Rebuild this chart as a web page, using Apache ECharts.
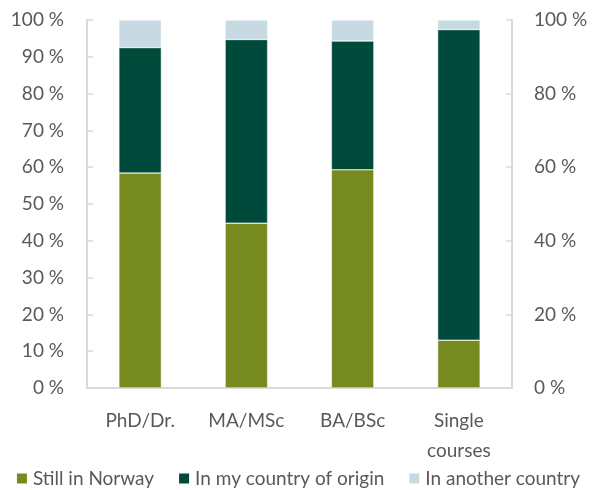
<!DOCTYPE html>
<html>
<head>
<meta charset="utf-8">
<script src="https://cdn.jsdelivr.net/npm/echarts@6/dist/echarts.min.js"></script>
<style>
  html, body { margin: 0; padding: 0; background: #fff; }
  #chart { width: 595px; height: 490px; }
</style>
</head>
<body>
<div id="chart"></div>
<script>
// percent of each group
var categories = ['PhD/Dr.', 'MA/MSc', 'BA/BSc', 'Single\ncourses']
var stillNorway = [58.4, 44.8, 59.3, 13.0]
var countryOrigin = [34.1, 49.9, 35.0, 84.4]
var anotherCountry = [7.5, 5.3, 5.7, 2.6]

var font = 'Lato'
var textColor = '#595959'
var axisGray = '#d9d9d9'

function makeSeries (name, data, color) {
  return {
    name: name,
    type: 'bar',
    stack: 'total',
    barWidth: '40%',
    data: data,
    itemStyle: { color: color, borderColor: '#fff', borderWidth: 0.5 }
  }
}

var chart = echarts.init(document.getElementById('chart'))

chart.setOption({
  animation: false,
  backgroundColor: '#fff',
  textStyle: { fontFamily: font },
  grid: { left: 87, right: 83, top: 20, bottom: 102 },
  legend: {
    bottom: 2,
    left: 'center',
    padding: 0,
    itemWidth: 12,
    itemHeight: 12,
    itemGap: 23,
    icon: 'rect',
    textStyle: { color: textColor, fontSize: 19, fontFamily: font },
    data: ['Still in Norway', 'In my country of origin', 'In another country']
  },
  xAxis: {
    type: 'category',
    data: categories,
    axisLine: { lineStyle: { color: axisGray, width: 2 } },
    axisTick: { inside: true, length: 6, lineStyle: { color: axisGray, width: 1.5 } },
    axisLabel: { color: textColor, fontSize: 19, margin: 18, lineHeight: 30 }
  },
  yAxis: [
    {
      type: 'value',
      min: 0,
      max: 100,
      interval: 10,
      splitLine: { show: false },
      axisLine: { show: true, lineStyle: { color: axisGray, width: 2 } },
      axisTick: { show: true, inside: true, length: 6, lineStyle: { color: axisGray, width: 1.5 } },
      axisLabel: { color: textColor, fontSize: 19, margin: 23, formatter: '{value} %' }
    },
    {
      type: 'value',
      min: 0,
      max: 100,
      interval: 20,
      position: 'right',
      splitLine: { show: false },
      axisLine: { show: true, lineStyle: { color: axisGray, width: 2 } },
      axisTick: { show: true, inside: true, length: 6, lineStyle: { color: axisGray, width: 1.5 } },
      axisLabel: { color: textColor, fontSize: 19, margin: 22, formatter: '{value} %' }
    }
  ],
  series: [
    makeSeries('Still in Norway', stillNorway, '#778a20'),
    makeSeries('In my country of origin', countryOrigin, '#004a3b'),
    makeSeries('In another country', anotherCountry, '#c7dae3')
  ]
})
</script>
</body>
</html>
